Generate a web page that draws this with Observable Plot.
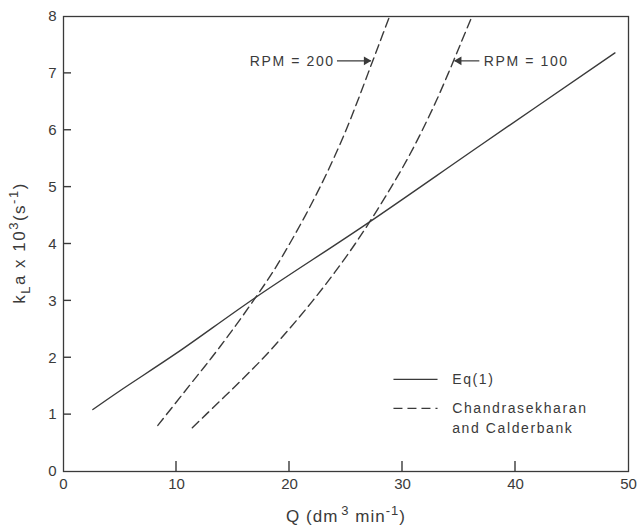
<!DOCTYPE html>
<html><head><meta charset="utf-8">
<script src="https://cdn.jsdelivr.net/npm/d3@7"></script>
<script src="https://cdn.jsdelivr.net/npm/@observablehq/plot@0.6"></script>
<style>
body{margin:0;background:#fff;}
#chart{position:relative;width:642px;height:527px;}
</style>
</head><body><div id="chart"></div>
<script>
// Eq(1) solid curve
const eqQ = [2.6, 5, 10, 17, 26.8, 37, 48.8];
const eqK = [1.09, 1.42, 2.08, 3.06, 4.35, 5.75, 7.36];
// Chandrasekharan and Calderbank, RPM = 200
const rpm200Q = [8.35, 11.1, 13.1, 15.0, 17.0, 18.5, 20.0, 21.4, 22.7, 23.9, 25.0, 26.0, 26.95, 27.9, 28.85];
const rpm200K = [0.81, 1.5, 2.0, 2.5, 3.06, 3.5, 4.0, 4.5, 5.0, 5.5, 6.0, 6.5, 7.0, 7.5, 8.0];
// Chandrasekharan and Calderbank, RPM = 100
const rpm100Q = [11.4, 12.6, 15.2, 17.7, 19.95, 22.05, 24.0, 25.8, 27.45, 29.0, 30.45, 31.75, 32.95, 34.05, 35.1, 36.15];
const rpm100K = [0.77, 1.0, 1.5, 2.0, 2.5, 3.0, 3.5, 4.0, 4.5, 5.0, 5.5, 6.0, 6.5, 7.0, 7.5, 8.0];

const xTicks = [0, 10, 20, 30, 40, 50];
const yTicks = [0, 1, 2, 3, 4, 5, 6, 7, 8];

// annotations (data units)
const rpmLabels = ["RPM = 200", "RPM = 100"];
const rpmLabelQ = [24.0, 37.2];
const rpmArrowFrom = [24.2, 36.8];
const rpmArrowTo = [27.2, 34.6];
const rpmArrowK = [7.22, 7.22];

const legendLabels = ["Eq(1)", "Chandrasekharan", "and Calderbank"];
const legendTextQ = 34.4;
const legendTextK = [1.62, 1.11, 0.76];
const legendLineQ = [29.2, 33.1];
const legendLineK = [1.62, 1.11];

const ink = "#3a3a3a";
const font = "Liberation Sans, Arial, sans-serif";
const W = 642, H = 527, mL = 63, mR = 14, mT = 16, mB = 56;

const eq = eqQ.map((q, i) => ({q, k: eqK[i]}));
const r200 = rpm200Q.map((q, i) => ({q, k: rpm200K[i]}));
const r100 = rpm100Q.map((q, i) => ({q, k: rpm100K[i]}));
const rpm = rpmLabels.map((t, i) => ({t, q: rpmLabelQ[i], q1: rpmArrowFrom[i], q2: rpmArrowTo[i], k: rpmArrowK[i], right: i === 0}));
const legText = legendLabels.map((t, i) => ({t, q: legendTextQ, k: legendTextK[i]}));
const legLines = legendLineK.map((k, i) => ({q1: legendLineQ[0], q2: legendLineQ[1], k, dash: i !== 0}));
const xInner = xTicks.slice(1, -1);
const yInner = yTicks.slice(1, -1);

const chart = Plot.plot({
  width: W, height: H,
  marginLeft: mL, marginRight: mR, marginTop: mT, marginBottom: mB,
  x: {domain: [0, 50]},
  y: {domain: [0, 8]},
  style: {fontFamily: font, fontSize: "14px", color: ink, background: "#fff"},
  marks: [
    Plot.frame({stroke: ink, strokeWidth: 1.3}),
    Plot.axisX({ticks: xTicks, tickFormat: d => d, tickSize: 0, tickPadding: 7, label: null, fontSize: 15}),
    Plot.axisY({ticks: yTicks, tickFormat: d => d, tickSize: 0, tickPadding: 7, label: null, fontSize: 15}),
    Plot.line(eq, {x: "q", y: "k", curve: "catmull-rom", stroke: ink, strokeWidth: 1.4}),
    Plot.line(r200, {x: "q", y: "k", curve: "catmull-rom", stroke: ink, strokeWidth: 1.4, strokeDasharray: "9,5"}),
    Plot.line(r100, {x: "q", y: "k", curve: "catmull-rom", stroke: ink, strokeWidth: 1.4, strokeDasharray: "9,5"}),
    Plot.link(rpm, {x1: "q1", x2: "q2", y1: "k", y2: "k", stroke: ink, strokeWidth: 1.2}),
    Plot.dot(rpm.filter(d => d.right), {x: "q2", y: "k", symbol: "triangle", r: 3.2, rotate: 90, dx: -4.5, fill: ink, stroke: "none"}),
    Plot.dot(rpm.filter(d => !d.right), {x: "q2", y: "k", symbol: "triangle", r: 3.2, rotate: -90, dx: 4.5, fill: ink, stroke: "none"}),
    Plot.text(rpm.filter(d => d.right), {x: "q", y: "k", text: "t", textAnchor: "end", fill: ink, fontSize: 14, dy: 1}),
    Plot.text(rpm.filter(d => !d.right), {x: "q", y: "k", text: "t", textAnchor: "start", fill: ink, fontSize: 14, dy: 1}),
    Plot.link(legLines.filter(d => !d.dash), {x1: "q1", x2: "q2", y1: "k", y2: "k", stroke: ink, strokeWidth: 1.3}),
    Plot.link(legLines.filter(d => d.dash), {x1: "q1", x2: "q2", y1: "k", y2: "k", stroke: ink, strokeWidth: 1.3, strokeDasharray: "9,5"}),
    Plot.text(legText, {x: "q", y: "k", text: "t", textAnchor: "start", fill: ink, fontSize: 14})
  ]
});
document.getElementById("chart").appendChild(chart);

const svg = d3.select(chart);
svg.selectAll("text").style("letter-spacing", function() {
  return /[A-Za-z]/.test(this.textContent) ? "1.6px" : null;
});

// inward tick marks, positioned through the chart's own scales
const sx = chart.scale("x"), sy = chart.scale("y");
const x0 = sx.apply(0), y0 = sy.apply(0);
const tg = svg.append("g").attr("stroke", ink).attr("stroke-width", 1.4);
tg.selectAll("line.xt").data(xInner).join("line").attr("class", "xt")
  .attr("x1", d => sx.apply(d)).attr("x2", d => sx.apply(d))
  .attr("y1", y0).attr("y2", y0 - 10);
tg.selectAll("line.yt").data(yInner).join("line").attr("class", "yt")
  .attr("x1", x0).attr("x2", x0 + 8)
  .attr("y1", d => sy.apply(d)).attr("y2", d => sy.apply(d));

// x-axis label
const xl = svg.append("text").attr("x", 346).attr("y", 522).attr("text-anchor", "middle")
  .attr("fill", ink).style("font-size", "17px").style("font-family", font).style("letter-spacing", "1px");
xl.append("tspan").text("Q (dm");
xl.append("tspan").attr("dx", 3).attr("dy", -7).style("font-size", "13px").text("3");
xl.append("tspan").attr("dy", 7).text(" min");
xl.append("tspan").attr("dy", -7).style("font-size", "13px").text("-1");
xl.append("tspan").attr("dy", 7).text(")");
// y-axis label
const yl = svg.append("text").attr("transform", "translate(25,243) rotate(-90)").attr("text-anchor", "middle")
  .attr("fill", ink).style("font-size", "17px").style("font-family", font).style("letter-spacing", "1.5px");
yl.append("tspan").text("k");
yl.append("tspan").attr("dy", 5).style("font-size", "13px").text("L");
yl.append("tspan").attr("dy", -5).text("a x 10");
yl.append("tspan").attr("dy", -7).style("font-size", "13px").text("3");
yl.append("tspan").attr("dy", 7).text("(s");
yl.append("tspan").attr("dy", -7).style("font-size", "13px").text("-1");
yl.append("tspan").attr("dy", 7).text(")");
</script>
</body></html>
